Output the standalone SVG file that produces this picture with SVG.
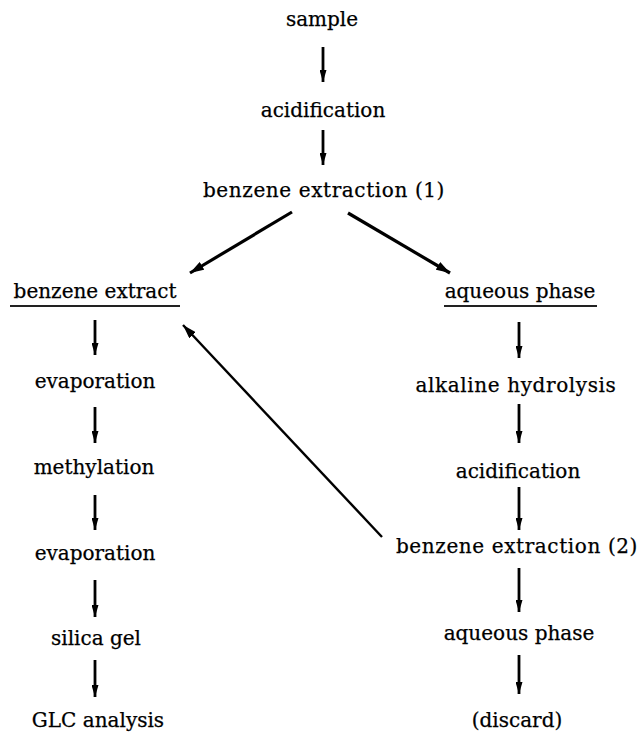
<svg xmlns="http://www.w3.org/2000/svg" width="639" height="733" viewBox="0 0 639 733">
<style>
text{font-family:"DejaVu Serif","Liberation Serif",serif;font-size:20px;fill:#000;stroke:#000;stroke-width:0.25;text-anchor:middle}
.wide{letter-spacing:0.6px}
.ar{stroke:#000;stroke-width:2.8;fill:none;marker-end:url(#ah)}
.dg{stroke:#000;stroke-width:3.2;fill:none;marker-end:url(#ahd)}
.bk{stroke:#000;stroke-width:2.4;fill:none;marker-end:url(#ahd)}
.ul{stroke:#222;stroke-width:1.8}
</style>
<defs>
<marker id="ah" markerUnits="userSpaceOnUse" markerWidth="12" markerHeight="7" refX="12" refY="3.5" orient="auto" viewBox="0 0 12 7"><path d="M0,0 L12,3.5 L0,7 Z" fill="#000"/></marker>
<marker id="ahd" markerUnits="userSpaceOnUse" markerWidth="14" markerHeight="9" refX="14" refY="4.5" orient="auto" viewBox="0 0 14 9"><path d="M0,0 L14,4.5 L0,9 Z" fill="#000"/></marker>
</defs>
<rect width="639" height="733" fill="#fff"/>
<g id="connectors">
<line class="ar" x1="323" y1="47" x2="323" y2="82"/>
<line class="ar" x1="323" y1="130" x2="323" y2="165"/>
<line class="dg" x1="292" y1="212" x2="190" y2="273"/>
<line class="dg" x1="348" y1="213" x2="450" y2="273"/>
<line class="ar" x1="95" y1="320" x2="95" y2="355"/>
<line class="ar" x1="95" y1="407" x2="95" y2="443"/>
<line class="ar" x1="95" y1="495" x2="95" y2="530"/>
<line class="ar" x1="95" y1="580" x2="95" y2="617"/>
<line class="ar" x1="95" y1="660" x2="95" y2="697"/>
<line class="ar" x1="519" y1="322" x2="519" y2="358"/>
<line class="ar" x1="519" y1="404" x2="519" y2="443"/>
<line class="ar" x1="519" y1="487" x2="519" y2="530"/>
<line class="ar" x1="519" y1="568" x2="519" y2="612"/>
<line class="ar" x1="519" y1="655" x2="519" y2="694"/>
<line class="bk" x1="382" y1="537" x2="183" y2="325"/>
</g>
<g id="n-sample"><text x="322" y="26">sample</text></g>
<g id="n-acid1"><text x="323" y="117">acidification</text></g>
<g id="n-bzext1"><text class="wide" x="324" y="197">benzene extraction (1)</text></g>
<g id="n-bzextract"><text x="95" y="298">benzene extract</text><line class="ul" x1="10" y1="306" x2="180" y2="306"/></g>
<g id="n-aq1"><text x="520" y="298">aqueous phase</text><line class="ul" x1="444" y1="306" x2="597" y2="306"/></g>
<g id="n-evap1"><text x="95" y="388">evaporation</text></g>
<g id="n-meth"><text x="94" y="474">methylation</text></g>
<g id="n-evap2"><text x="95" y="560">evaporation</text></g>
<g id="n-silica"><text x="96" y="645">silica gel</text></g>
<g id="n-glc"><text x="98" y="727">GLC analysis</text></g>
<g id="n-alk"><text class="wide" x="516" y="392">alkaline hydrolysis</text></g>
<g id="n-acid2"><text x="518" y="478">acidification</text></g>
<g id="n-bzext2"><text class="wide" x="517" y="553">benzene extraction (2)</text></g>
<g id="n-aq2"><text x="519" y="640">aqueous phase</text></g>
<g id="n-discard"><text x="517" y="727">(discard)</text></g>
</svg>
